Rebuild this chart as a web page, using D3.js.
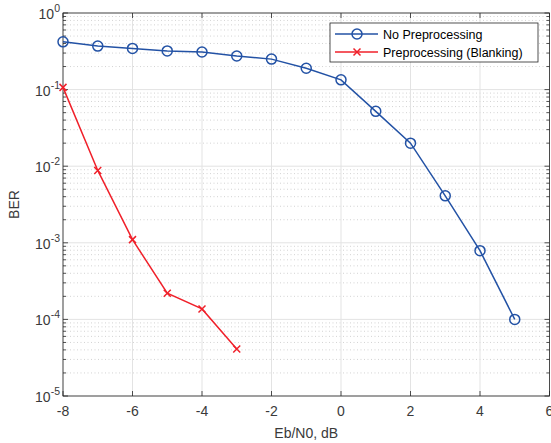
<!DOCTYPE html>
<html>
<head>
<meta charset="utf-8">
<script src="https://cdn.jsdelivr.net/npm/d3@7"></script>
<style>
  body { margin: 0; background: #fff; }
  text { font-family: Arial, "Liberation Sans", sans-serif; }
</style>
</head>
<body>
<div id="chart"></div>
<script>
/*
 * Chart data.
 */
var snr = [-8, -7, -6, -5, -4, -3, -2, -1, 0, 1, 2, 3, 4, 5];
var berNoPre = [0.42, 0.37, 0.345, 0.32, 0.31, 0.275, 0.25, 0.19, 0.134, 0.052, 0.020, 0.0041, 0.00079, 0.0001];
var snrBlank = [-8, -7, -6, -5, -4, -3];
var berBlank = [0.107, 0.0088, 0.0011, 0.00022, 0.000137, 0.000041];
var xTicks = [-8, -6, -4, -2, 0, 2, 4, 6];
var yExponents = [0, -1, -2, -3, -4, -5];
var legendLabels = ['No Preprocessing', 'Preprocessing (Blanking)'];

var width = 551, height = 443;
var margin = {left: 63, right: 1.5, top: 13, bottom: 47};
var blue = '#2352a5', red = '#f0202a', axisColor = '#262626', labelColor = '#3a3a3a';

var svg = d3.select('#chart').append('svg')
    .attr('width', width)
    .attr('height', height);

var x = d3.scaleLinear()
    .domain([-8, 6])
    .range([margin.left, width - margin.right]);

var y = d3.scaleLog()
    .domain([1e-5, 1])
    .range([height - margin.bottom, margin.top]);

var x0 = x.range()[0], x1 = x.range()[1];
var y0 = y.range()[0], y1 = y.range()[1];

/*
 * Minor grid (dotted).
 */
var minor = [];
yExponents.slice(1).forEach(function(e) {
    for (var k = 2; k <= 9; k++) minor.push(k * Math.pow(10, e));
});
svg.append('g').selectAll('line').data(minor).join('line')
    .attr('x1', x0).attr('x2', x1)
    .attr('y1', d => y(d)).attr('y2', d => y(d))
    .attr('stroke', '#c8c8c8')
    .attr('stroke-width', 0.8)
    .attr('stroke-dasharray', '1,2.5');

/*
 * Major grid.
 */
svg.append('g').selectAll('line').data(xTicks).join('line')
    .attr('x1', d => x(d)).attr('x2', d => x(d))
    .attr('y1', y0).attr('y2', y1)
    .attr('stroke', '#e3e3e3');
svg.append('g').selectAll('line').data(yExponents).join('line')
    .attr('x1', x0).attr('x2', x1)
    .attr('y1', d => y(Math.pow(10, d))).attr('y2', d => y(Math.pow(10, d)))
    .attr('stroke', '#e3e3e3');

/*
 * Axes box with ticks on all sides.
 */
var yTickVals = yExponents.map(e => Math.pow(10, e)).concat(minor);
function yTicksAt(px, dir) {
    svg.append('g').selectAll('line').data(yTickVals).join('line')
        .attr('x1', px).attr('x2', d => px + dir * (minor.indexOf(d) >= 0 ? 3 : 5))
        .attr('y1', d => y(d)).attr('y2', d => y(d))
        .attr('stroke', axisColor).attr('stroke-width', 0.8);
}
function xTicksAt(py, dir) {
    svg.append('g').selectAll('line').data(xTicks).join('line')
        .attr('x1', d => x(d)).attr('x2', d => x(d))
        .attr('y1', py).attr('y2', py + dir * 5)
        .attr('stroke', axisColor).attr('stroke-width', 0.8);
}
yTicksAt(x0, 1);
yTicksAt(x1, -1);
xTicksAt(y0, -1);
xTicksAt(y1, 1);

svg.append('rect')
    .attr('x', x0).attr('y', y1)
    .attr('width', x1 - x0).attr('height', y0 - y1)
    .attr('fill', 'none')
    .attr('stroke', axisColor)
    .attr('stroke-width', 0.8);

/*
 * Tick labels.
 */
svg.append('g').selectAll('text').data(xTicks).join('text')
    .attr('x', d => x(d))
    .attr('y', y0 + 20)
    .attr('text-anchor', 'middle')
    .attr('font-size', 14)
    .attr('fill', labelColor)
    .text(d => d);

var yLabels = svg.append('g').selectAll('text').data(yExponents).join('text')
    .attr('x', x0 - 3)
    .attr('y', d => y(Math.pow(10, d)) + 6)
    .attr('text-anchor', 'end')
    .attr('font-size', 14)
    .attr('fill', labelColor);
yLabels.append('tspan').text('10');
yLabels.append('tspan')
    .attr('dy', -7)
    .attr('font-size', 10.5)
    .text(d => d === 0 ? '0' : '-' + Math.abs(d));

/*
 * Axis titles.
 */
svg.append('text')
    .attr('x', (x0 + x1) / 2)
    .attr('y', 438)
    .attr('text-anchor', 'middle')
    .attr('font-size', 14)
    .attr('fill', labelColor)
    .text('Eb/N0, dB');

svg.append('text')
    .attr('transform', 'translate(19,' + ((y0 + y1) / 2) + ') rotate(-90)')
    .attr('text-anchor', 'middle')
    .attr('font-size', 14)
    .attr('fill', labelColor)
    .text('BER');

/*
 * Series.
 */
var line = d3.line()
    .x(d => x(d[0]))
    .y(d => y(d[1]));

var blueData = d3.zip(snr, berNoPre);
var redData = d3.zip(snrBlank, berBlank);

svg.append('path')
    .attr('d', line(blueData))
    .attr('fill', 'none')
    .attr('stroke', blue)
    .attr('stroke-width', 1.5);
svg.append('g').selectAll('circle').data(blueData).join('circle')
    .attr('cx', d => x(d[0]))
    .attr('cy', d => y(d[1]))
    .attr('r', 5)
    .attr('fill', 'none')
    .attr('stroke', blue)
    .attr('stroke-width', 1.5);

svg.append('path')
    .attr('d', line(redData))
    .attr('fill', 'none')
    .attr('stroke', red)
    .attr('stroke-width', 1.5);

function cross(g, cx, cy, color) {
    var s = 3.5;
    g.append('path')
        .attr('d', 'M' + (cx - s) + ',' + (cy - s) + 'L' + (cx + s) + ',' + (cy + s) +
                   'M' + (cx - s) + ',' + (cy + s) + 'L' + (cx + s) + ',' + (cy - s))
        .attr('stroke', color)
        .attr('stroke-width', 1.5);
}
var redMarks = svg.append('g');
redData.forEach(function(d) { cross(redMarks, x(d[0]), y(d[1]), red); });

/*
 * Legend.
 */
var legend = svg.append('g').attr('transform', 'translate(330,23)');
legend.append('rect')
    .attr('width', 208).attr('height', 39)
    .attr('fill', '#fff')
    .attr('stroke', axisColor)
    .attr('stroke-width', 0.8);
[blue, red].forEach(function(c, i) {
    var ly = 11 + i * 18;
    legend.append('line')
        .attr('x1', 5).attr('x2', 48)
        .attr('y1', ly).attr('y2', ly)
        .attr('stroke', c).attr('stroke-width', 1.5);
    if (i === 0) {
        legend.append('circle')
            .attr('cx', 27).attr('cy', ly).attr('r', 5)
            .attr('fill', 'none').attr('stroke', c).attr('stroke-width', 1.5);
    } else {
        cross(legend, 27, ly, c);
    }
    legend.append('text')
        .attr('x', 53).attr('y', ly + 4.5)
        .attr('font-size', 12.5)
        .attr('fill', '#000')
        .text(legendLabels[i]);
});
</script>
</body>
</html>
